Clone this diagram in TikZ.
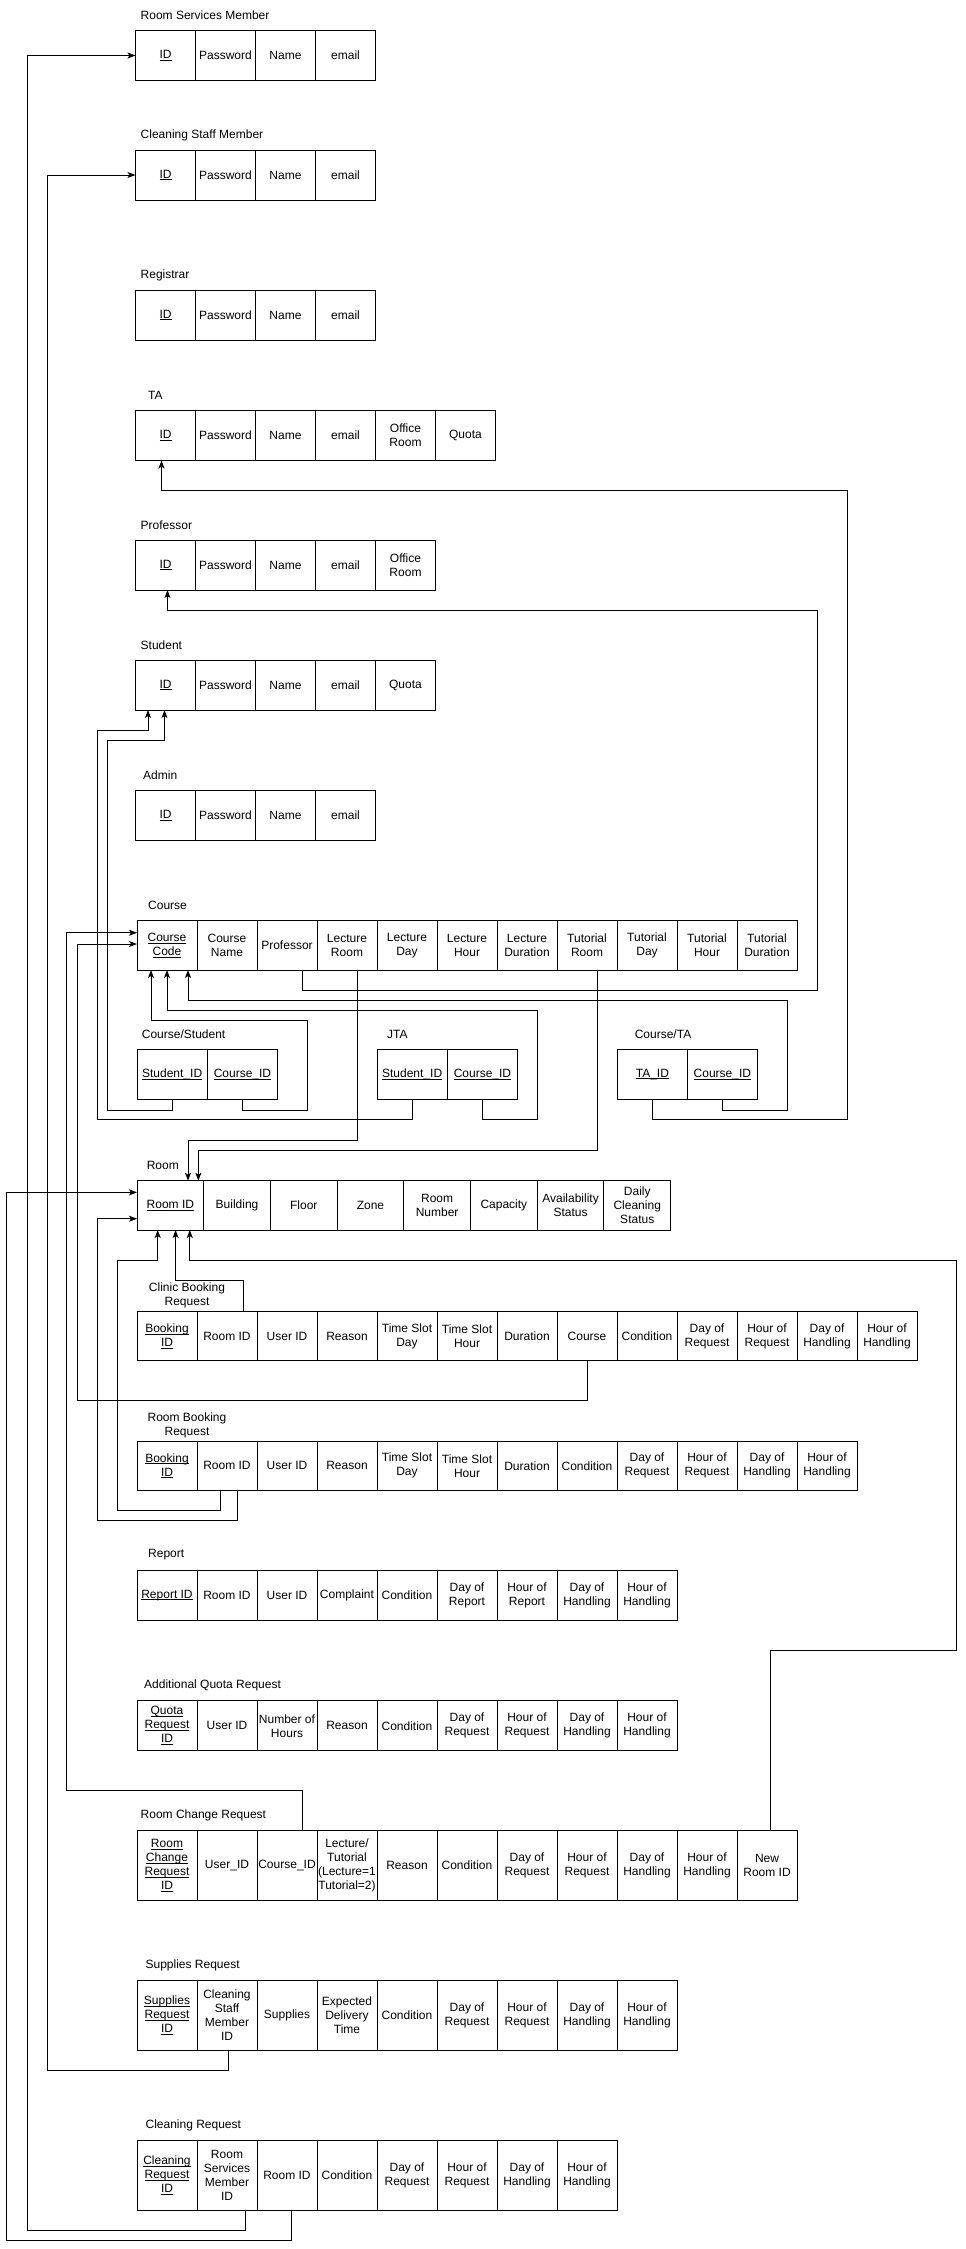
\documentclass[tikz,border=0pt]{standalone}
\usepackage{fontspec}
\setmainfont{Liberation Sans}
\usetikzlibrary{arrows.meta}

% underline for key attributes that does not change the line spacing
\newcommand\keyul[1]{\leavevmode\setbox0\hbox{#1}\rlap{\rule[-2pt]{\wd0}{0.8pt}}\box0}

% one row of attribute cells: name, left x, top y, cell width, cell height, texts
\newcommand\ertable[6]{%
  \foreach \txt [count=\k] in {#6} {
    \node[cell, minimum width=#4pt, minimum height=#5pt, anchor=north west]
      (#1-\k) at ({#2+(\k-1)*#4}, #3) {\txt};
  }%
}

\begin{document}
\begin{tikzpicture}[x=1pt, y=-1pt,
  cell/.style={draw, line width=1pt, inner sep=1pt, outer sep=0pt, align=center,
               font=\fontsize{12}{14}\selectfont},
  ttl/.style={anchor=west, inner sep=0pt, font=\fontsize{12}{14}\selectfont},
  ttlc/.style={anchor=center, inner sep=0pt, align=center, font=\fontsize{12}{14}\selectfont},
  fk/.style={line width=1pt, -{Stealth[length=8pt, width=6pt, inset=2pt]}}]

\fill[white] (0,0) rectangle (966,2249);
\useasboundingbox (0,0) rectangle (966,2249);

% ---------- user tables ----------
\node[ttl] (t-rsm) at (140.5,15) {Room Services Member};
\ertable{rsm}{135.5}{30.5}{60}{50}{\keyul{ID}, Password, Name, email}

\node[ttl] (t-csm) at (140.5,135) {Cleaning Staff Member};
\ertable{csm}{135.5}{150}{60}{50}{\keyul{ID}, Password, Name, email}

\node[ttl] (t-reg) at (140.5,275) {Registrar};
\ertable{reg}{135.5}{290}{60}{50}{\keyul{ID}, Password, Name, email}

\node[ttl] (t-ta) at (148,395) {TA};
\ertable{ta}{135.5}{410.5}{60}{50}{\keyul{ID}, Password, Name, email, {Office\\Room}, Quota}

\node[ttl] (t-prof) at (140.5,525) {Professor};
\ertable{prof}{135.5}{540}{60}{50}{\keyul{ID}, Password, Name, email, {Office\\Room}}

\node[ttl] (t-stu) at (140.5,645) {Student};
\ertable{stu}{135.5}{660}{60}{50}{\keyul{ID}, Password, Name, email, Quota}

\node[ttl] (t-adm) at (143,775) {Admin};
\ertable{adm}{135.5}{790.5}{60}{50}{\keyul{ID}, Password, Name, email}

% ---------- courses ----------
\node[ttl] (t-course) at (148,905) {Course};
\ertable{course}{137}{920.5}{60}{49.5}{{\keyul{Course}\\\keyul{Code}}, {Course\\Name}, Professor,
  {Lecture\\Room}, {Lecture\\Day}, {Lecture\\Hour}, {Lecture\\Duration},
  {Tutorial\\Room}, {Tutorial\\Day}, {Tutorial\\Hour}, {Tutorial\\Duration}}

\node[ttl] (t-cs) at (141.7,1034) {Course/Student};
\ertable{cs}{137}{1049.3}{70.3}{50}{\keyul{Student\_ID}, \keyul{Course\_ID}}

\node[ttl] (t-jta) at (387,1034) {JTA};
\ertable{jta}{377}{1049.3}{70.3}{50}{\keyul{Student\_ID}, \keyul{Course\_ID}}

\node[ttl] (t-cta) at (634.6,1034) {Course/TA};
\ertable{cta}{617.4}{1049.3}{70}{50}{\keyul{TA\_ID}, \keyul{Course\_ID}}

% ---------- rooms ----------
\node[ttl] (t-room) at (146.6,1165) {Room};
\ertable{room}{137}{1180.7}{66.7}{49.3}{\keyul{Room ID}, Building, Floor, Zone, {Room\\Number},
  Capacity, {Availability\\Status}, {Daily\\Cleaning\\Status}}

\node[ttlc] (t-cb) at (187,1295.5) {Clinic Booking\\Request};
\ertable{cb}{137}{1311.7}{60}{49}{{\keyul{Booking}\\\keyul{ID}}, Room ID, User ID, Reason,
  {Time Slot\\Day}, {Time Slot\\Hour}, Duration, Course, Condition,
  {Day of\\Request}, {Hour of\\Request}, {Day of\\Handling}, {Hour of\\Handling}}

\node[ttlc] (t-rb) at (187,1425.5) {Room Booking\\Request};
\ertable{rb}{137}{1441}{60}{49.7}{{\keyul{Booking}\\\keyul{ID}}, Room ID, User ID, Reason,
  {Time Slot\\Day}, {Time Slot\\Hour}, Duration, Condition,
  {Day of\\Request}, {Hour of\\Request}, {Day of\\Handling}, {Hour of\\Handling}}

\node[ttl] (t-rep) at (148,1555) {Report};
\ertable{rep}{137}{1570.7}{60}{49.3}{\keyul{Report ID}, Room ID, User ID, Complaint, Condition,
  {Day of\\Report}, {Hour of\\Report}, {Day of\\Handling}, {Hour of\\Handling}}

\node[ttl] (t-aq) at (144,1685.7) {Additional Quota Request};
\ertable{aq}{137}{1700.7}{60}{50}{{\keyul{Quota}\\\keyul{Request}\\\keyul{ID}}, User ID,
  {Number of\\Hours}, Reason, Condition,
  {Day of\\Request}, {Hour of\\Request}, {Day of\\Handling}, {Hour of\\Handling}}

\node[ttl] (t-rc) at (140.5,1815) {Room Change Request};
\ertable{rc}{137}{1830.7}{60}{69.3}{{\keyul{Room}\\\keyul{Change}\\\keyul{Request}\\\keyul{ID}},
  User\_ID, Course\_ID, {Lecture/\\Tutorial\\(Lecture=1\\Tutorial=2)}, Reason, Condition,
  {Day of\\Request}, {Hour of\\Request}, {Day of\\Handling}, {Hour of\\Handling}, {New\\Room ID}}

\node[ttl] (t-sr) at (145.4,1965.7) {Supplies Request};
\ertable{sr}{137}{1980.7}{60}{69.3}{{\keyul{Supplies}\\\keyul{Request}\\\keyul{ID}},
  {Cleaning\\Staff\\Member\\ID}, Supplies, {Expected\\Delivery\\Time}, Condition,
  {Day of\\Request}, {Hour of\\Request}, {Day of\\Handling}, {Hour of\\Handling}}

\node[ttl] (t-cr) at (145.4,2125) {Cleaning Request};
\ertable{cr}{137}{2140.7}{60}{69.3}{{\keyul{Cleaning}\\\keyul{Request}\\\keyul{ID}},
  {Room\\Services\\Member\\ID}, Room ID, Condition,
  {Day of\\Request}, {Hour of\\Request}, {Day of\\Handling}, {Hour of\\Handling}}

% ---------- foreign keys ----------
% staff references
\draw[fk] ([xshift=18pt]cr-2.south) |- (27.7,2230) |- (rsm-1.west);
\draw[fk] ([xshift=1pt]sr-2.south) |- (47.4,2070.7) |- (csm-1.west);

% people referenced by course tables
\draw[fk] (cta-1.south) |- (847,1119) -- (847,490) -| ([xshift=-4pt]ta-1.south);
\draw[fk] ([xshift=15.5pt]course-3.south) |- (817.6,990) -- (817.6,610) -| ([xshift=2pt]prof-1.south);
\draw[fk] (cs-1.south) |- (107.8,1110) -- (107.8,740) -| ([xshift=-1pt]stu-1.south);
\draw[fk] (jta-1.south) |- (97.4,1119) -- (97.4,730) -| ([xshift=-17.5pt]stu-1.south);

% course code references
\draw[fk] (cs-2.south) |- (307,1110) -- (307,1020) -| ([xshift=-16pt]course-1.south);
\draw[fk] (jta-2.south) |- (537,1119) -- (537,1010) -| (course-1.south);
\draw[fk] (cta-2.south) |- (787.4,1110) -- (787.4,1000.7) -| ([xshift=21pt]course-1.south);
\draw[fk] (cb-8.south) |- (77,1400) |- ([yshift=1.25pt]course-1.west);
\draw[fk] ([xshift=15.5pt]rc-3.north) |- (66.5,1790) |- ([yshift=12.5pt]course-1.west);

% room id references
\draw[fk] ([xshift=10.4pt]course-4.south) -- ++(0,170) -| ([xshift=17.65pt]room-1.north);
\draw[fk] ([xshift=10pt]course-8.south) -- ++(0,180) -| ([xshift=28pt]room-1.north);
\draw[fk] ([xshift=4pt]cr-3.south) |- (6.2,2240) |- ([yshift=13pt]room-1.west);
\draw[fk] ([xshift=10.2pt]rb-2.south) |- (97.4,1520) |- ([yshift=-13.35pt]room-1.west);
\draw[fk] ([xshift=-6.4pt]rb-2.south) |- (117,1510.7) -- (117,1260) -| ([xshift=-12.65pt]room-1.south);
\draw[fk] ([xshift=16.4pt]cb-2.north) -- ++(0,-31.7) -| ([xshift=5.25pt]room-1.south);
\draw[fk] ([xshift=3.8pt]rc-11.north) |- (956.9,1650.7) -- (956.9,1260) -| ([xshift=19.45pt]room-1.south);

\end{tikzpicture}
\end{document}
